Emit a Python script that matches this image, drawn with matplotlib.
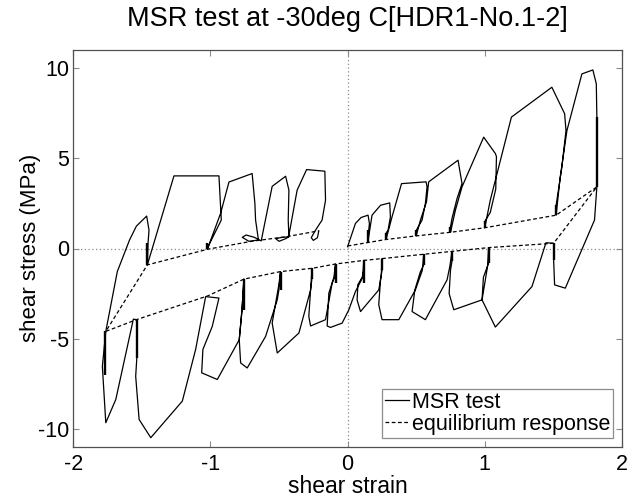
import matplotlib
matplotlib.use("Agg")
import matplotlib.pyplot as plt

# MSR test path, split by phase (strain, stress in MPa)
load_strain = [0.0, 0.057, 0.098, 0.149, 0.159, 0.154, 0.147,
               0.178, 0.24, 0.307, 0.312, 0.295, 0.28, 0.28,
               0.324, 0.393, 0.572, 0.579, 0.567, 0.543, 0.50, 0.50,
               0.531, 0.575, 0.591, 0.805, 0.834, 0.798, 0.761, 0.75, 0.75,
               0.786, 0.834, 0.992, 1.077, 1.085, 1.08, 1.04, 1.0, 1.0,
               1.04, 1.194, 1.489, 1.582, 1.592, 1.562, 1.52, 1.52,
               1.55, 1.599, 1.708, 1.788, 1.813, 1.817, 1.817]
load_stress = [0.1, 1.39, 1.72, 1.85, 1.39, 1.02, 0.33,
               1.85, 2.4, 2.53, 1.76, 1.02, 0.85, 0.5,
               1.76, 3.6, 3.7, 3.42, 2.5, 1.58, 1.0, 0.7,
               1.58, 2.59, 3.7, 4.9, 3.6, 2.78, 1.67, 1.2, 0.9,
               2.13, 3.42, 6.18, 5.27, 5.1, 3.3, 2.0, 1.5, 1.15,
               2.68, 7.29, 8.95, 7.48, 6.55, 4.52, 2.4, 1.85,
               3.97, 6.55, 9.69, 9.91, 9.14, 7.29, 3.42]

unload_strain = [1.80, 1.587, 1.509, 1.502, 1.502,
                 1.446, 1.344, 1.077, 0.98, 0.99, 1.028, 1.028,
                 1.02, 0.98, 0.774, 0.74, 0.75, 0.761, 0.761,
                 0.745, 0.725, 0.567, 0.47, 0.49, 0.53, 0.555, 0.555,
                 0.545, 0.494, 0.373, 0.251, 0.227, 0.24, 0.251, 0.251,
                 0.245, 0.227, 0.094, 0.069, 0.075, 0.106, 0.118, 0.118,
                 0.11, 0.057, 0.009, -0.04, -0.125, -0.149, -0.137, -0.10, -0.088,
                 -0.095, -0.113, -0.161, -0.27, -0.283, -0.27, -0.259, -0.259,
                 -0.27, -0.355, -0.513, -0.55, -0.52, -0.501, -0.489,
                 -0.501, -0.513, -0.598, -0.732, -0.78, -0.79, -0.77, -0.756,
                 -0.77, -0.79, -0.95, -1.064, -1.055, -0.987, -0.938, -1.035,
                 -1.108, -1.205, -1.435, -1.52, -1.545, -1.537, -1.537, -1.562,
                 -1.69, -1.763, -1.776, -1.788, -1.775, -1.763]
unload_stress = [1.58, -2.2, -2.02, -0.64, 0.29,
                 0.32, -2.11, -4.36, -2.85, -1.6, -0.8, 0.05,
                 -1.0, -2.85, -3.4, -2.5, -1.2, -0.7, -0.16,
                 -1.0, -1.74, -3.95, -3.5, -2.3, -1.3, -0.9, -0.32,
                 -1.2, -2.3, -3.95, -3.95, -3.12, -1.74, -1.2, -0.56,
                 -1.5, -2.3, -3.5, -2.85, -2.0, -1.6, -1.2, -0.66,
                 -1.6, -2.39, -3.4, -4.14, -4.38, -4.3, -2.48, -1.6, -0.86,
                 -1.6, -1.93, -3.95, -4.3, -3.77, -2.3, -1.6, -1.1,
                 -2.3, -4.69, -5.8, -4.14, -2.85, -2.0, -1.28,
                 -2.3, -2.85, -4.88, -6.63, -6.35, -5.06, -3.4, -1.7,
                 -3.4, -5.06, -7.27, -6.9, -5.6, -4.33, -2.75, -2.67,
                 -5.6, -8.47, -10.5, -9.49, -7.09, -6.1, -3.95, -3.92,
                 -8.38, -9.67, -8.0, -6.54, -5.5, -4.6]

reload_strain = [-1.679, -1.59, -1.54, -1.465, -1.448, -1.455, -1.46,
                 -1.266, -0.938, -0.926, -0.921, -1.011, -1.023,
                 -0.926, -0.865, -0.696, -0.676, -0.671, -0.65,
                 -0.72, -0.768, -0.74, -0.68, -0.63,
                 -0.55, -0.452, -0.428, -0.433, -0.428,
                 -0.477, -0.525, -0.50, -0.45, -0.43,
                 -0.368, -0.299, -0.166, -0.161, -0.186, -0.234,
                 -0.265, -0.25, -0.22, -0.21]
reload_stress = [-1.28, 0.47, 1.24, 1.8, 1.02, 0.3, -0.91,
                 4.03, 4.03, 2.31, 1.58, 0.2, -0.05,
                 1.95, 3.69, 4.16, 2.5, 1.58, 0.47,
                 0.40, 0.62, 0.75, 0.62, 0.42,
                 3.45, 4.01, 3.24, 1.58, 0.65,
                 0.62, 0.55, 0.40, 0.55, 0.65,
                 3.24, 4.38, 4.29, 2.68, 1.58, 1.02,
                 0.6, 0.45, 0.6, 0.98]

# relaxation end points (equilibrium response), in test order
eq_strain = [0.0, 0.147, 0.28, 0.50, 0.75, 1.0, 1.52, 1.817,
             1.502, 1.028, 0.761, 0.555, 0.251, 0.118, -0.088, -0.259,
             -0.489, -0.756, -1.02, -1.54, -1.763,
             -1.46, -1.02, -0.70, -0.45, -0.21]
eq_stress = [0.14, 0.33, 0.5, 0.7, 0.9, 1.15, 1.85, 3.42,
             0.29, 0.05, -0.16, -0.32, -0.56, -0.66, -0.86, -1.1,
             -1.28, -1.7, -2.63, -3.95, -4.6,
             -0.91, -0.04, 0.4, 0.65, 0.98]

# noisy relaxation stretches drawn thicker
relax_strain = [0.147, 0.28, 0.50, 0.75, 1.0, 1.52, 1.817,
                1.502, 1.028, 0.761, 0.555, 0.251, 0.118, -0.088, -0.259,
                -0.489, -0.756, -1.537, -1.77, -1.46, -1.023]
relax_low = [0.33, 0.5, 0.7, 0.9, 1.15, 1.85, 3.42,
             -0.64, -0.8, -0.7, -0.9, -1.2, -1.9, -1.9, -1.7,
             -2.3, -3.4, -6.1, -7.0, -0.91, -0.05]
relax_high = [1.0, 0.85, 1.0, 1.2, 1.5, 2.4, 7.3,
              0.29, 0.05, -0.16, -0.32, -0.56, -0.66, -0.86, -1.1,
              -1.28, -1.7, -3.95, -4.6, 0.3, 0.29]

x_ticks = [-2, -1, 0, 1, 2]
y_ticks = [-10, -5, 0, 5, 10]

plt.rcParams["font.family"] = ["Liberation Sans", "DejaVu Sans"]
plt.rcParams["axes.unicode_minus"] = False

fig = plt.figure(figsize=(6.29, 4.97), dpi=100)
ax = fig.add_axes([0.1165, 0.1012, 0.8723, 0.7976])

msr_x = load_strain + unload_strain + reload_strain
msr_y = load_stress + unload_stress + reload_stress

ax.axhline(0, color="#8c8c8c", lw=0.9, ls=(0, (1, 2)), zorder=1)
ax.axvline(0, color="#8c8c8c", lw=0.9, ls=(0, (1, 2)), zorder=1)
ax.plot(msr_x, msr_y, color="black", lw=0.9, label="MSR test", zorder=3)
ax.vlines(relax_strain, relax_low, relax_high, color="black", lw=1.7, zorder=3)
ax.plot(eq_strain, eq_stress, color="black", lw=0.9, ls=(0, (3, 2)),
        label="equilibrium response", zorder=4)

ax.set_xlim(-2, 2)
ax.set_ylim(-11, 11)
ax.set_xticks(x_ticks)
ax.set_yticks(y_ticks)
ax.tick_params(direction="in", length=4, width=0.8, color="#8c8c8c",
               labelsize=15.5, top=True, right=True, labelcolor="black")
ax.tick_params(axis="x", pad=5)
ax.tick_params(axis="y", pad=3)
for s in ax.spines.values():
    s.set_color("#505050")
    s.set_linewidth(0.9)

fig.text(0.5525, 1 - 19 / 497, "MSR test at -30deg C[HDR1-No.1-2]",
         ha="center", va="center", fontsize=19.5)
fig.text(0.5525, 1 - 493 / 497, "shear strain", ha="center", va="baseline",
         fontsize=16.5)
fig.text(31 / 629, 1 - 248 / 497, "shear stress (MPa)", ha="center",
         va="center", rotation=90, fontsize=16)

leg = ax.legend(loc="lower right", fontsize=15.5, frameon=True, fancybox=False,
                edgecolor="#8c8c8c", framealpha=1, borderpad=0.15,
                handlelength=1.1, handletextpad=0.15, labelspacing=0.05,
                borderaxespad=0.4)
leg.get_frame().set_linewidth(0.9)

fig.savefig("out.png", dpi=100)
